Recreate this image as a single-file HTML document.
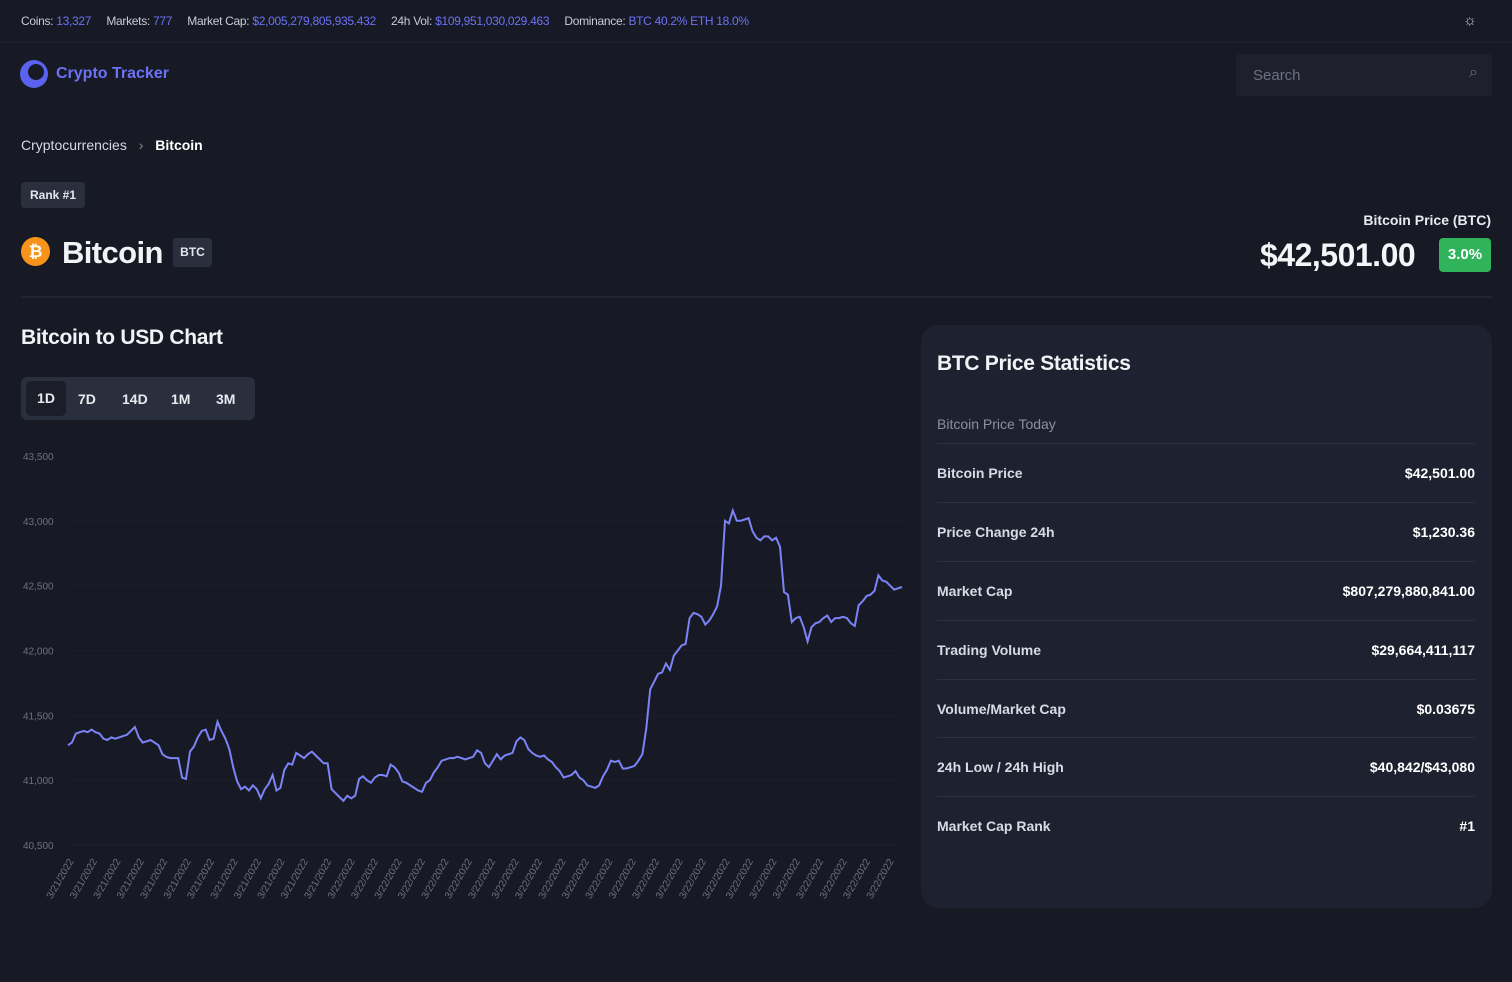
<!DOCTYPE html>
<html><head><meta charset="utf-8"><style>
*{box-sizing:border-box;margin:0;padding:0}
body{width:1512px;height:982px;background:#171a25;font-family:"Liberation Sans",sans-serif;color:#e8eaf0;position:relative;overflow:hidden}
.abs{position:absolute}
.top{left:0;top:0;width:1512px;height:43px;border-bottom:1px solid #1f2230;font-size:12px;color:#c9ccd6;letter-spacing:-0.3px}
.top span.v{color:#6b72f5}
.stat-row{position:absolute;left:937px;width:538px;height:59px;border-top:1px solid #2c3040;font-size:14px;font-weight:bold;color:#d8dbe4}
.stat-row .l{position:absolute;left:0;top:21px}
.stat-row .r{position:absolute;right:0;top:21px;color:#fff}
</style></head><body>
<div class="abs top">
 <div class="abs" style="left:21px;top:14px;white-space:nowrap">Coins: <span class="v">13,327</span>&nbsp;&nbsp;&nbsp;&nbsp; Markets: <span class="v">777</span>&nbsp;&nbsp;&nbsp;&nbsp; Market Cap: <span class="v">$2,005,279,805,935.432</span>&nbsp;&nbsp;&nbsp;&nbsp; 24h Vol: <span class="v">$109,951,030,029.463</span>&nbsp;&nbsp;&nbsp;&nbsp; Dominance: <span class="v">BTC 40.2% ETH 18.0%</span></div>
 <div class="abs" style="left:1463px;top:12px;font-size:15px;color:#ccc">☼</div>
</div>
<div class="abs" style="left:20px;top:60px;display:flex;align-items:center;gap:8px">
 <div style="width:28px;height:28px;border-radius:50%;background:#5a62f0;position:relative"><div style="position:absolute;left:8px;top:4px;width:16px;height:16px;border-radius:50%;background:#171a25"></div></div>
 <span style="color:#6b72f5;font-weight:bold;font-size:16px">Crypto Tracker</span>
</div>
<div class="abs" style="left:1236px;top:54px;width:256px;height:42px;background:#1e212d;border-radius:4px;color:#6c7080;font-size:15px;padding:13px 17px">Search<span style="position:absolute;right:14px;top:10px;font-size:16px">⌕</span></div>
<div class="abs" style="left:21px;top:137px;font-size:14px;color:#d6d9e2"><span>Cryptocurrencies</span> <span style="color:#888;margin:0 8px">›</span> <span style="color:#fff;font-weight:bold">Bitcoin</span></div>
<div class="abs" style="left:21px;top:182px;width:64px;height:26px;background:#2a2f3e;border-radius:4px;font-size:12px;font-weight:bold;color:#e4e6ec;text-align:center;line-height:26px">Rank #1</div>
<div class="abs" style="left:21px;top:237px;width:29px;height:29px;border-radius:50%;background:#f7931a;color:#fff;font-weight:bold;font-size:17px;text-align:center;line-height:29px">₿</div>
<div class="abs" style="left:62px;top:235px;font-size:31px;font-weight:bold;color:#f2f3f6;letter-spacing:-0.6px">Bitcoin</div>
<div class="abs" style="left:173px;top:238px;width:39px;height:29px;background:#2a2f3e;border-radius:3px;font-size:12px;font-weight:bold;color:#e4e6ec;text-align:center;line-height:29px">BTC</div>
<div class="abs" style="right:21px;top:212px;font-size:14px;font-weight:bold;color:#e8eaf0">Bitcoin Price (BTC)</div>
<div class="abs" style="left:1260px;top:237px;font-size:32px;font-weight:bold;color:#f4f5f8;letter-spacing:-0.5px">$42,501.00</div>
<div class="abs" style="left:1439px;top:238px;width:52px;height:34px;background:#2fb35b;border-radius:4px;font-size:15px;font-weight:bold;color:#fff;text-align:center;line-height:34px">3.0%</div>
<div class="abs" style="left:21px;top:296px;width:1471px;height:2px;background:#222532"></div>
<div class="abs" style="left:21px;top:326px;font-size:21px;font-weight:bold;color:#f2f3f6;letter-spacing:-0.3px">Bitcoin to USD Chart</div>
<div class="abs" style="left:21px;top:377px;width:234px;height:43px;background:#2a2f3e;border-radius:6px;font-size:14px;font-weight:bold;color:#e8eaf0">
 <div class="abs" style="left:5px;top:4px;width:40px;height:35px;background:#1b1e29;border-radius:5px;text-align:center;line-height:35px">1D</div>
 <div class="abs" style="left:57px;top:14px">7D</div>
 <div class="abs" style="left:101px;top:14px">14D</div>
 <div class="abs" style="left:150px;top:14px">1M</div>
 <div class="abs" style="left:195px;top:14px">3M</div>
</div>
<svg class="abs" style="left:0;top:440px" width="915" height="480" id="chart"></svg>
<div class="abs" style="left:921px;top:325px;width:571px;height:583px;background:#1e2230;border-radius:18px">
 <div class="abs" style="left:16px;top:27px;font-size:21px;font-weight:bold;color:#f2f3f6;letter-spacing:-0.3px">BTC Price Statistics</div>
 <div class="abs" style="left:16px;top:91px;font-size:14px;color:#8b8fa0">Bitcoin Price Today</div>
</div>
<div class="stat-row" style="top:443px"><span class="l">Bitcoin Price</span><span class="r">$42,501.00</span></div>
<div class="stat-row" style="top:502px"><span class="l">Price Change 24h</span><span class="r">$1,230.36</span></div>
<div class="stat-row" style="top:561px"><span class="l">Market Cap</span><span class="r">$807,279,880,841.00</span></div>
<div class="stat-row" style="top:620px"><span class="l">Trading Volume</span><span class="r">$29,664,411,117</span></div>
<div class="stat-row" style="top:679px"><span class="l">Volume/Market Cap</span><span class="r">$0.03675</span></div>
<div class="stat-row" style="top:737px"><span class="l">24h Low / 24h High</span><span class="r">$40,842/$43,080</span></div>
<div class="stat-row" style="top:796px"><span class="l">Market Cap Rank</span><span class="r">#1</span></div>
<script>
const yTicks=[40500,41000,41500,42000,42500,43000,43500];
const xLabels=["3/21/2022","3/21/2022","3/21/2022","3/21/2022","3/21/2022","3/21/2022","3/21/2022","3/21/2022","3/21/2022","3/21/2022","3/21/2022","3/21/2022","3/22/2022","3/22/2022","3/22/2022","3/22/2022","3/22/2022","3/22/2022","3/22/2022","3/22/2022","3/22/2022","3/22/2022","3/22/2022","3/22/2022","3/22/2022","3/22/2022","3/22/2022","3/22/2022","3/22/2022","3/22/2022","3/22/2022","3/22/2022","3/22/2022","3/22/2022","3/22/2022","3/22/2022"];
const prices=[41270,41290,41360,41370,41380,41370,41390,41370,41360,41320,41310,41330,41320,41330,41340,41350,41380,41410,41330,41290,41300,41310,41290,41270,41200,41180,41170,41170,41170,41020,41010,41220,41260,41330,41380,41390,41310,41320,41450,41380,41320,41240,41100,40990,40930,40950,40920,40960,40930,40860,40930,40970,41040,40920,40940,41080,41130,41120,41210,41190,41170,41200,41220,41190,41160,41130,41130,40930,40900,40870,40840,40880,40860,40880,41010,41030,41000,40980,41020,41040,41040,41030,41120,41100,41060,40990,40980,40960,40940,40920,40910,40980,41000,41060,41100,41150,41160,41170,41170,41180,41170,41160,41170,41180,41230,41210,41130,41100,41150,41200,41160,41190,41200,41210,41300,41330,41310,41240,41210,41190,41180,41190,41160,41140,41100,41070,41020,41030,41040,41070,41020,41000,40960,40950,40940,40960,41030,41080,41150,41140,41150,41090,41090,41100,41110,41150,41200,41400,41700,41760,41820,41830,41900,41850,41960,42000,42040,42050,42250,42290,42280,42260,42200,42230,42280,42340,42500,43000,42980,43080,43000,43000,43010,43020,42920,42870,42850,42880,42880,42850,42870,42800,42450,42430,42220,42250,42260,42180,42070,42180,42210,42220,42250,42270,42220,42250,42250,42260,42250,42210,42190,42350,42380,42420,42430,42460,42580,42540,42530,42500,42470,42480,42490];
const svg=document.getElementById('chart');const NS='http://www.w3.org/2000/svg';
const X0=68,X1=902,yTop=16,yBot=405,vMin=40500,vMax=43500;
const ys=v=>yBot-(v-vMin)/(vMax-vMin)*(yBot-yTop);
const xs=i=>X0+i/(prices.length-1)*(X1-X0);
yTicks.forEach(t=>{
 const l=document.createElementNS(NS,'line');
 
 
 l.setAttribute('x1',X0);l.setAttribute('x2',X1);l.setAttribute('y1',ys(t));l.setAttribute('y2',ys(t));l.setAttribute('stroke','#1c1f2b');svg.appendChild(l);
 const tx=document.createElementNS(NS,'text');
 
 
 tx.setAttribute('x',23);tx.setAttribute('y',ys(t)+4);tx.setAttribute('fill','#6c7080');tx.setAttribute('font-size','10');tx.textContent=t.toLocaleString('en-US');svg.appendChild(tx);
});
xLabels.forEach((s,i)=>{
 const x=X0+6+i*(X1-X0-14)/(xLabels.length-1);
 const tx=document.createElementNS(NS,'text');
 
 
 tx.setAttribute('transform',`translate(${x},${yBot+16}) rotate(-60)`);tx.setAttribute('text-anchor','end');tx.setAttribute('fill','#6c7080');tx.setAttribute('font-size','10');tx.textContent=s;svg.appendChild(tx);
});
const p=document.createElementNS(NS,'path');


p.setAttribute('d',prices.map((v,i)=>(i?'L':'M')+xs(i).toFixed(1)+','+ys(v).toFixed(1)).join(''));
p.setAttribute('fill','none');p.setAttribute('stroke','#7b83f5');p.setAttribute('stroke-width','2');svg.appendChild(p);
</script>
</body></html>
